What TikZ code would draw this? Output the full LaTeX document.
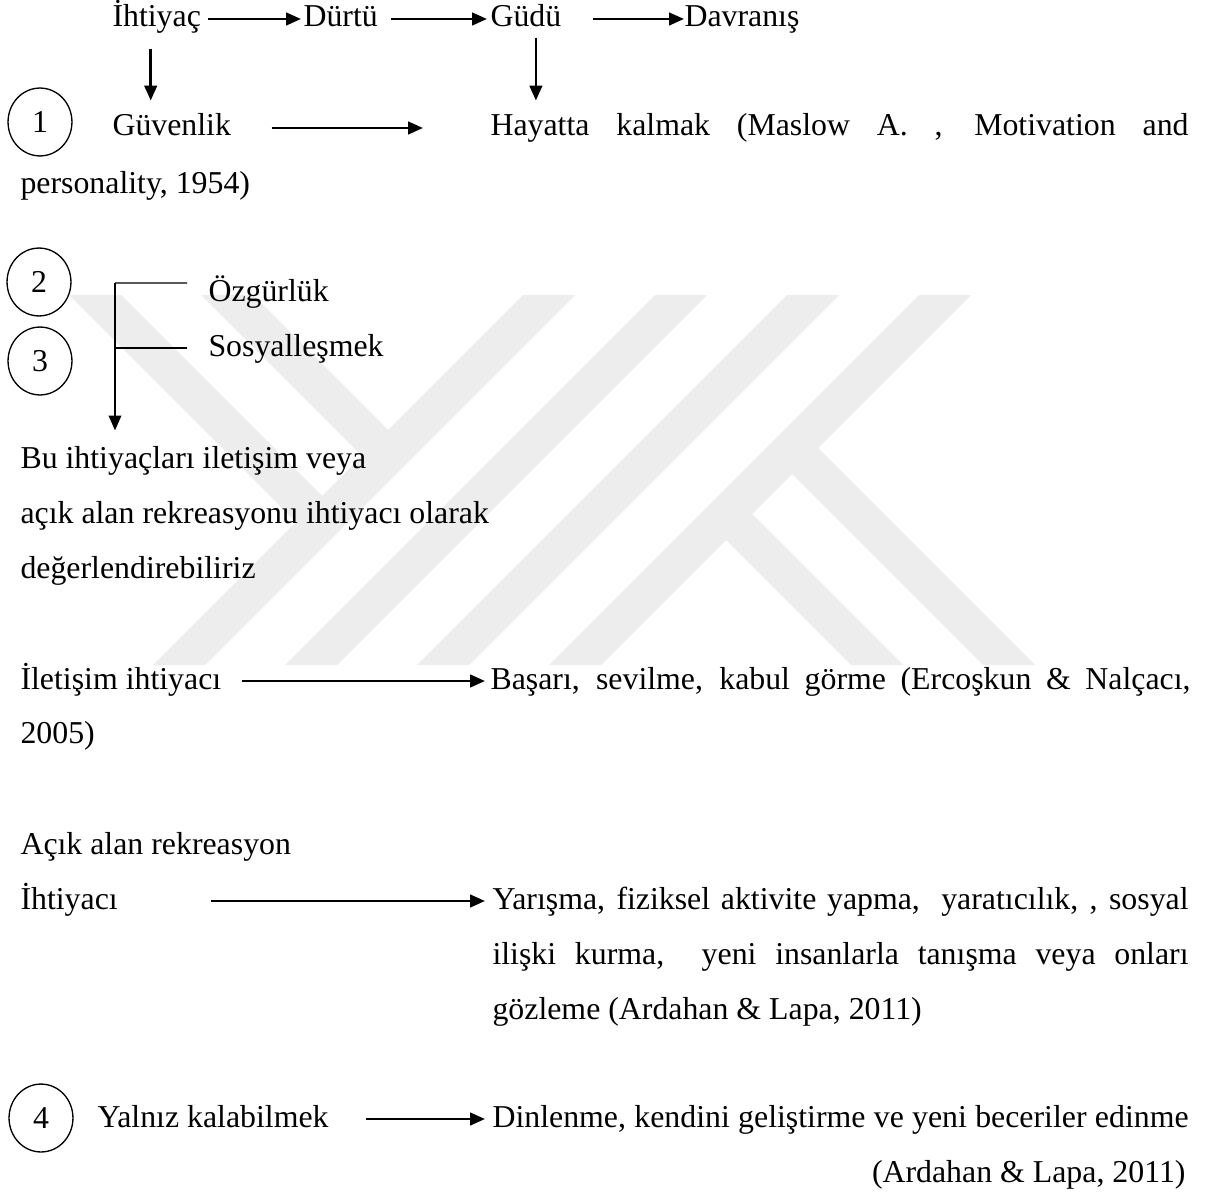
\documentclass[tikz,border=0pt]{standalone}
\usepackage{fontspec}
\setmainfont{Liberation Serif}
\usetikzlibrary{arrows.meta,shapes.geometric}
\newlength\pxu
\setlength\pxu{0.377pt}
\newcommand\jline[2]{\makebox[#1\pxu][s]{#2}}
\begin{document}
  \begin{tikzpicture}
    [
    x=0.377pt, y=-0.377pt,
    every node/.style={font=\fontsize{12}{14}\selectfont},
    txt/.style={anchor=base west,inner sep=0pt,text height=8.3pt,text depth=2.26pt},
    num/.style={draw,ellipse,line width=0.5pt,minimum width=24.1pt,minimum height=25.6pt,inner sep=0pt},
    arr/.style={line width=1pt,-{Triangle[length=5.6pt,width=4.7pt]}},
    brk/.style={line width=0.5pt},
    wm/.style={fill=black!7},
    ]
    \fill[white] (0,0) rectangle (1210,1197);
    \useasboundingbox (0,0) rectangle (1210,1197);
    % watermark
    \foreach \u in {818,950,1082,1214}
      \fill[wm] (\u-295,295) -- (\u-243,295) -- (\u-613,665) -- (\u-665,665) -- cycle;
    \fill[wm] (713,527) -- (739,501) -- (903,665) -- (851,665) -- cycle;
    \fill[wm] (779,461) -- (805,435) -- (1035,665) -- (983,665) -- cycle;
    \fill[wm] (375,469) -- (401,443) -- (253,295) -- (201,295) -- cycle;
    \fill[wm] (309,535) -- (335,509) -- (121,295) -- (69,295) -- cycle;

    \node[txt] (ihtiyac) at (112,27) {İhtiyaç};
    \node[txt] (durtu) at (303,27) {Dürtü};
    \node[txt] (gudu) at (490,27) {Güdü};
    \node[txt] (davranis) at (684,27) {Davranış};
    \draw[arr,shorten <=7\pxu,shorten >=2\pxu] (ihtiyac.east) -- (durtu.west);
    \draw[arr,shorten <=13\pxu,shorten >=3\pxu] (durtu.east) -- (gudu.west);
    \draw[arr,shorten <=31\pxu] (gudu.east) -- (davranis.west);

    \node[num] (n1) at (40,122) {1};
    \node[txt] (guvenlik) at (112,136) {Güvenlik};
    \node[txt] (hayatta) at (490,136) {\jline{698}{Hayatta kalmak (Maslow A. , Motivation and}};
    \node[txt] (personality) at (20,194) {personality, 1954)};
    \draw[arr] (ihtiyac.south) ++(-6,15) -- ++(0,52);
    \draw[arr] (gudu.south) ++(10,4) -- ++(0,63);
    \draw[arr,shorten <=40\pxu,shorten >=67\pxu] (guvenlik.east) -- (hayatta.west);

    \node[num] (n2) at (39,282) {2};
    \node[num] (n3) at (40,361) {3};
    \node[txt] (ozgurluk) at (208,301) {Özgürlük};
    \node[txt] (sosyal) at (208,356) {Sosyalleşmek};
    \coordinate (brtop) at (115,283);
    \node[txt] (bu) at (20,468) {Bu ihtiyaçları iletişim veya};
    \node[txt] (acik) at (20,523) {açık alan rekreasyonu ihtiyacı olarak};
    \node[txt] (deger) at (20,578) {değerlendirebiliriz};
    \draw[brk] (ozgurluk.west) ++(-21,-10) -- (brtop);
    \draw[brk] (sosyal.west) ++(-21,0) -- ++(-72,0);
    \draw[arr,line width=0.75pt,shorten >=15\pxu] (brtop) -- (brtop |- bu.north);

    \node[txt] (iletisim) at (20,689) {İletişim ihtiyacı};
    \node[txt] (basari) at (490,689) {\jline{700}{Başarı, sevilme, kabul görme (Ercoşkun \& Nalçacı,}};
    \node[txt] (yil) at (20,743) {2005)};
    \draw[arr,shorten <=20\pxu,shorten >=5\pxu] (iletisim.east) -- (basari.west);

    \node[txt] (acikalan) at (20,854) {Açık alan rekreasyon};
    \node[txt] (ihtiyaci) at (20,909) {İhtiyacı};
    \node[txt] (yarisma) at (492,909) {\jline{696}{Yarışma, fiziksel aktivite yapma,\ \ yaratıcılık, , sosyal}};
    \node[txt] (iliski) at (492,964) {\jline{696}{ilişki kurma,\ \ yeni insanlarla tanışma veya onları}};
    \node[txt] (gozleme) at (492,1019) {gözleme (Ardahan \& Lapa, 2011)};
    \draw[arr,shorten <=93\pxu,shorten >=7\pxu] (ihtiyaci.east) -- (yarisma.west);

    \node[num] (n4) at (41,1118) {4};
    \node[txt] (yalniz) at (97,1127) {Yalnız kalabilmek};
    \node[txt] (dinlenme) at (492,1127) {\jline{696}{Dinlenme, kendini geliştirme ve yeni beceriler edinme}};
    \node[txt,anchor=base east] (kaynak) at (1186,1182) {(Ardahan \& Lapa, 2011)};
    \draw[arr,shorten <=37\pxu,shorten >=7\pxu] (yalniz.east) -- (dinlenme.west);
  \end{tikzpicture}
\end{document}
